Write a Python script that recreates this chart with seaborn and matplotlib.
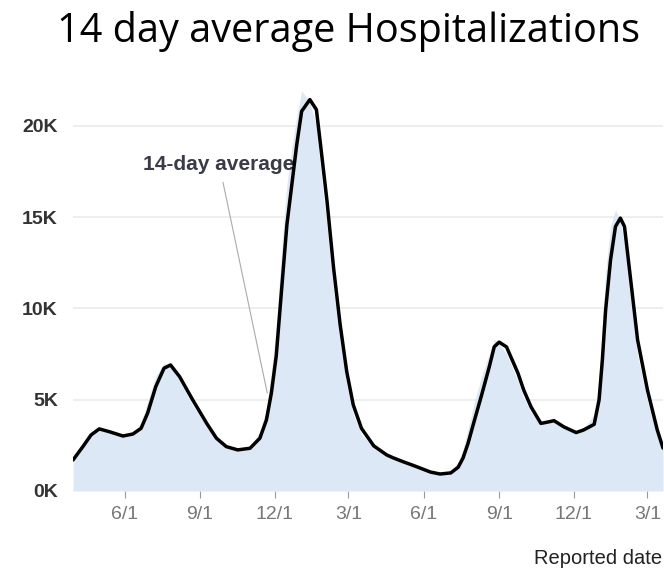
import seaborn as sns
import matplotlib.pyplot as plt
import matplotlib.dates as mdates
import pandas as pd

# values (hospitalizations)
dates = ['2020-03-30', '2020-04-11', '2020-04-21', '2020-05-01', '2020-05-13',
         '2020-05-30', '2020-06-11', '2020-06-21', '2020-06-29', '2020-07-09',
         '2020-07-19', '2020-07-27', '2020-08-07', '2020-08-23', '2020-09-09',
         '2020-09-21', '2020-10-03', '2020-10-17', '2020-11-01', '2020-11-13',
         '2020-11-21', '2020-11-27', '2020-12-03', '2020-12-10', '2020-12-16',
         '2020-12-22', '2020-12-28', '2021-01-03', '2021-01-13', '2021-01-21',
         '2021-01-27', '2021-02-03', '2021-02-11', '2021-02-19', '2021-02-27',
         '2021-03-07', '2021-03-17', '2021-04-01', '2021-04-17', '2021-04-25',
         '2021-05-07', '2021-05-18', '2021-05-28', '2021-06-09', '2021-06-21',
         '2021-07-04', '2021-07-13', '2021-07-19', '2021-07-25', '2021-08-02',
         '2021-08-10', '2021-08-20', '2021-08-26', '2021-09-01', '2021-09-10',
         '2021-09-24', '2021-10-01', '2021-10-10', '2021-10-22', '2021-10-31',
         '2021-11-07', '2021-11-19', '2021-12-04', '2021-12-13', '2021-12-26',
         '2022-01-01', '2022-01-05', '2022-01-09', '2022-01-15', '2022-01-21',
         '2022-01-27', '2022-02-01', '2022-02-09', '2022-02-17', '2022-03-01',
         '2022-03-13', '2022-03-20']
avg14 = [1700, 2430, 3070, 3400, 3250,
         3010, 3120, 3430, 4260, 5720,
         6720, 6900, 6260, 4990, 3710,
         2890, 2430, 2250, 2340, 2890,
         3890, 5350, 7400, 11290, 14580,
         16770, 18960, 20790, 21430, 20880,
         18590, 15850, 12200, 9100, 6540,
         4710, 3430, 2470, 1970, 1810,
         1600, 1420, 1250, 1040, 930,
         990, 1300, 1810, 2600, 3890,
         5150, 6800, 7890, 8150, 7890,
         6450, 5530, 4600, 3700, 3780,
         3850, 3510, 3200, 3340, 3650,
         4990, 7180, 9920, 12660, 14480,
         14940, 14480, 11380, 8270, 5530,
         3340, 2350]
daily = [1750, 2600, 3200, 3450, 3200,
         3000, 3200, 3700, 4900, 6300,
         7000, 6800, 6000, 4700, 3500,
         2800, 2350, 2250, 2450, 3200,
         4500, 6500, 9000, 13500, 16800,
         18800, 20500, 21900, 21300, 20000,
         17200, 14500, 11000, 8200, 5800,
         4200, 3100, 2350, 1900, 1750,
         1550, 1350, 1200, 1000, 920,
         1100, 1600, 2300, 3400, 4900,
         6200, 7500, 8300, 8100, 7500,
         6000, 5100, 4300, 3700, 3800,
         3800, 3400, 3200, 3400, 4200,
         6200, 9000, 12000, 14500, 15400,
         14800, 13500, 10300, 7400, 4900,
         3000, 2250]
yticks = [0, 5000, 10000, 15000, 20000]
yticklabels = ['0K', '5K', '10K', '15K', '20K']
xticks = ['2020-06-01', '2020-09-01', '2020-12-01', '2021-03-01',
          '2021-06-01', '2021-09-01', '2021-12-01', '2022-03-01']

df = pd.DataFrame({'date': pd.to_datetime(dates), 'avg14': avg14, 'daily': daily})

sns.set_theme(style='white')
plt.rcParams['font.family'] = ['Liberation Sans', 'DejaVu Sans']

fig = plt.figure(figsize=(6.64, 5.70), dpi=100)
ax = fig.add_axes([0.110, 0.1386, 0.8885, 0.721])

ax.fill_between(df['date'], df['daily'], 0, color='#dce8f5', lw=0, zorder=1)
sns.lineplot(data=df, x='date', y='avg14', color='black', lw=2.5, ax=ax, zorder=3,
             solid_joinstyle='round', solid_capstyle='round')

ax.set_xlim(pd.Timestamp('2020-03-30'), pd.Timestamp('2022-03-20'))
ax.set_ylim(0, 22500)
ax.set_yticks(yticks)
ax.set_yticklabels(yticklabels, fontsize=14, fontweight='bold', color='#333333')
ax.set_xticks(pd.to_datetime(xticks))
ax.xaxis.set_major_formatter(mdates.DateFormatter('%-m/%-d'))
ax.tick_params(axis='x', length=5, width=0.8, color='#999999', labelcolor='#777777',
               labelsize=14, pad=6, bottom=True, direction='out')
ax.tick_params(axis='y', length=0, pad=11)
ax.yaxis.grid(True, color='#ebebeb', lw=1.2, zorder=0)
ax.set_axisbelow(True)
for s in ax.spines.values():
    s.set_visible(False)
ax.set_xlabel('')
ax.set_ylabel('')

# annotation for the average line
ax.annotate('', xy=(pd.Timestamp('2020-11-22'), 5370),
            xytext=(pd.Timestamp('2020-09-29'), 16900),
            arrowprops=dict(arrowstyle='-', color='#aaaaaa', lw=0.8,
                            shrinkA=0, shrinkB=0))
ax.text(pd.Timestamp('2020-06-23'), 17900, '14-day average', fontsize=15,
        fontweight='bold', color='#3a3a48', ha='left', va='center', zorder=2)

fig.text(0.525, 0.945, '14 day average Hospitalizations', fontsize=28.5,
         family='Open Sans', ha='center', va='center', color='black')
fig.text(0.997, 0.021, 'Reported date', fontsize=14.5, ha='right', va='center',
         color='#222222')

fig.savefig('out.png', dpi=100)
